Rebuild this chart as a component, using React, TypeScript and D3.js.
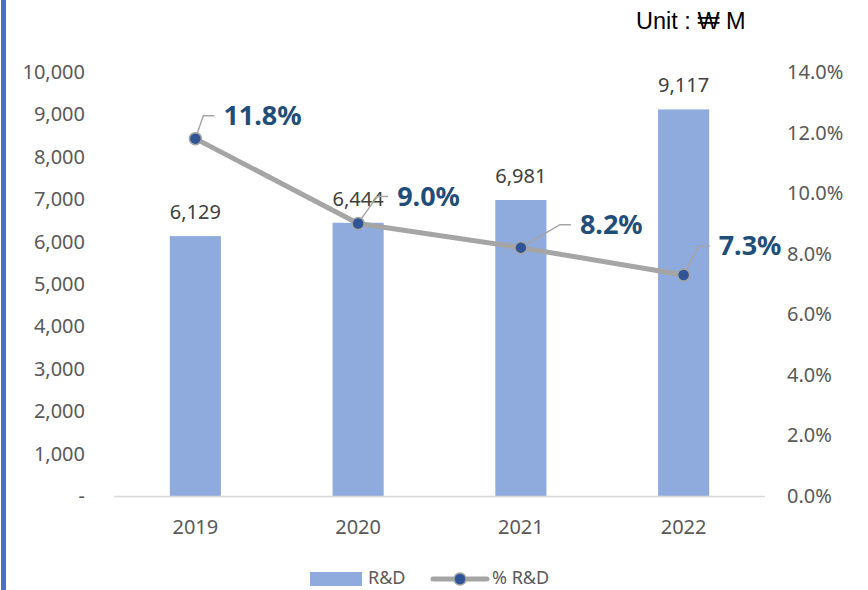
import React from 'react';
import * as d3 from 'd3';

const years = ['2019', '2020', '2021', '2022'];
const rdValues = [6129, 6444, 6981, 9117];
const rdRatio = [0.118, 0.09, 0.082, 0.073];
const leftTicks = [0, 1000, 2000, 3000, 4000, 5000, 6000, 7000, 8000, 9000, 10000];
const rightTicks = [0, 0.02, 0.04, 0.06, 0.08, 0.1, 0.12, 0.14];

// label placement for the % labels (text start / centre relative to the point)
const pctLabelOffset = [
  [28, -23],
  [39, -27],
  [59, -23],
  [35, -29],
];

const W = 868;
const H = 590;
const plotLeft = 114;
const plotRight = 765;
const plotTop = 72;
const plotBottom = 496;

const font = '"Noto Sans", "Open Sans", sans-serif';
const tickColor = '#595959';
const barColor = '#8FAADC';
const lineColor = '#A5A5A5';
const markerColor = '#2F5597';
const labelBlue = '#1F4E79';

const App = () => {
  const x = d3.scaleBand<string>()
    .domain(years)
    .range([plotLeft, plotRight])
    .paddingInner(0.686)
    .paddingOuter(0.343);

  const yLeft = d3.scaleLinear().domain([0, 10000]).range([plotBottom, plotTop]);
  const yRight = d3.scaleLinear().domain([0, 0.14]).range([plotBottom, plotTop]);

  const fmtNum = d3.format(',');
  const fmtPct = d3.format('.1%');

  const cx = (y: string) => (x(y) as number) + x.bandwidth() / 2;

  const linePath = d3.line<number>()
    .x((d, i) => cx(years[i]))
    .y(d => yRight(d))(rdRatio);

  return (
    <svg width={W} height={H} style={{ position: 'absolute', left: 0, top: 0, display: 'block', background: '#fff' }}>
      {/* left accent border */}
      <rect x={1} y={0} width={5} height={H} fill="#4472C4" />

      {/* unit */}
      <text x={636} y={29} fontFamily='"Liberation Sans", Arial, sans-serif' fontSize={23.5} fill="#000">Unit : ₩ M</text>

      {/* left axis labels */}
      {leftTicks.map(t => (
        <text key={'l' + t} x={85} y={yLeft(t)} dy="0.35em" textAnchor="end"
          fontFamily={font} fontSize={20} fill={tickColor}>
          {t === 0 ? '-' : fmtNum(t)}
        </text>
      ))}

      {/* right axis labels */}
      {rightTicks.map(t => (
        <text key={'r' + t} x={787} y={yRight(t)} dy="0.35em" textAnchor="start"
          fontFamily={font} fontSize={20} fill={tickColor}>
          {fmtPct(t)}
        </text>
      ))}

      {/* bars */}
      {years.map((y, i) => (
        <rect key={'b' + y} x={x(y)} y={yLeft(rdValues[i])} width={x.bandwidth()}
          height={plotBottom - yLeft(rdValues[i])} fill={barColor} />
      ))}

      {/* baseline */}
      <line x1={plotLeft} x2={plotRight} y1={plotBottom + 0.5} y2={plotBottom + 0.5} stroke="#D9D9D9" strokeWidth={1.5} />

      {/* year labels */}
      {years.map(y => (
        <text key={'x' + y} x={cx(y)} y={527} dy="0.35em" textAnchor="middle"
          fontFamily={font} fontSize={20} fill={tickColor}>{y}</text>
      ))}

      {/* bar value labels */}
      {years.map((y, i) => (
        <text key={'v' + y} x={cx(y)} y={yLeft(rdValues[i]) - 24} dy="0.35em" textAnchor="middle"
          fontFamily={font} fontSize={20} fill="#404040">{fmtNum(rdValues[i])}</text>
      ))}

      {/* ratio line */}
      <path d={linePath || ''} fill="none" stroke={lineColor} strokeWidth={5} strokeLinejoin="round" strokeLinecap="round" />

      {/* leader lines + pct labels */}
      {years.map((y, i) => {
        const px = cx(y);
        const py = yRight(rdRatio[i]);
        const tx = px + pctLabelOffset[i][0];
        const ty = py + pctLabelOffset[i][1];
        return (
          <g key={'p' + y}>
            <polyline points={`${px},${py} ${tx - 20},${ty} ${tx - 9},${ty}`} fill="none" stroke={lineColor} strokeWidth={1.5} />
            <text x={tx} y={ty} dy="0.35em" fontFamily={font} fontSize={27} fontWeight="bold" fill={labelBlue}>
              {fmtPct(rdRatio[i])}
            </text>
          </g>
        );
      })}

      {/* markers */}
      {years.map((y, i) => (
        <circle key={'m' + y} cx={cx(y)} cy={yRight(rdRatio[i])} r={6} fill={markerColor} stroke={lineColor} strokeWidth={1.5} />
      ))}

      {/* legend */}
      <rect x={310} y={572} width={52} height={14} fill={barColor} />
      <text x={368} y={578} dy="0.35em" fontFamily={font} fontSize={18} fill={tickColor}>R&amp;D</text>
      <line x1={433} x2={487} y1={579} y2={579} stroke={lineColor} strokeWidth={5} strokeLinecap="round" />
      <circle cx={460} cy={579} r={6} fill={markerColor} stroke={lineColor} strokeWidth={1.5} />
      <text x={492} y={578} dy="0.35em" fontFamily={font} fontSize={18} fill={tickColor}>% R&amp;D</text>
    </svg>
  );
};

export default App;
